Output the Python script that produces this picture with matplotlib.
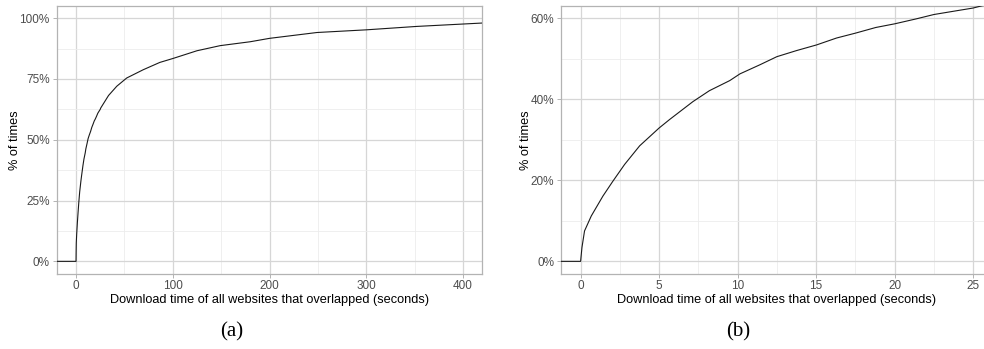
import matplotlib
matplotlib.use("Agg")
import matplotlib.pyplot as plt
from matplotlib.ticker import FuncFormatter, MultipleLocator

# ECDF of download time (seconds) -> share of times
times = [-30, 0, 0.085, 0.25, 0.68, 1.42, 2.06, 2.8, 3.76, 5, 5.67, 7.15, 8.2,
         9.5, 10.15, 11.42, 12.5, 13.75, 15.03, 16.3, 17.5, 18.8, 20.0, 21.35,
         22.5, 23.9, 25.0, 25.6, 33.6, 42.1, 52.4, 69.5, 86.6, 100, 125, 149,
         180, 200, 249, 300, 352, 420]
share = [0, 0, 0.034, 0.075, 0.112, 0.161, 0.198, 0.239, 0.285, 0.329, 0.35,
         0.394, 0.421, 0.446, 0.4626, 0.485, 0.505, 0.52, 0.534, 0.551, 0.563,
         0.577, 0.586, 0.598, 0.609, 0.618, 0.625, 0.631, 0.682, 0.72, 0.754,
         0.788, 0.818, 0.834, 0.866, 0.887, 0.903, 0.917, 0.941, 0.952, 0.966,
         0.98]

panel_labels = ["(a)", "(b)"]
x_title = "Download time of all websites that overlapped (seconds)"
y_title = "% of times"

plt.rcParams["font.family"] = ["Liberation Sans", "DejaVu Sans"]

fig = plt.figure(figsize=(9.84, 3.49), dpi=100)
ax_a = fig.add_axes([0.0576, 0.2163, 0.4326, 0.7665])
ax_b = fig.add_axes([0.5701, 0.2163, 0.4388, 0.7665])

pct = FuncFormatter(lambda v, p: f"{v * 100:.0f}%")


def style(ax, xlim, ylim, xmaj, ymaj):
    ax.plot(times, share, color="#1a1a1a", lw=0.8, zorder=3)
    ax.set_xlim(*xlim)
    ax.set_ylim(*ylim)
    ax.xaxis.set_major_locator(MultipleLocator(xmaj))
    ax.xaxis.set_minor_locator(MultipleLocator(xmaj / 2))
    ax.yaxis.set_major_locator(MultipleLocator(ymaj))
    ax.yaxis.set_minor_locator(MultipleLocator(ymaj / 2))
    ax.yaxis.set_major_formatter(pct)
    ax.grid(which="major", color="#d6d6d6", lw=0.9, zorder=0)
    ax.grid(which="minor", color="#ececec", lw=0.6, zorder=0)
    ax.set_axisbelow(True)
    for s in ax.spines.values():
        s.set_color("#b3b3b3")
        s.set_linewidth(0.9)
    ax.tick_params(which="major", length=3, width=0.7, color="#b3b3b3",
                   labelsize=8.5, labelcolor="#4d4d4d", pad=2)
    ax.tick_params(which="minor", length=0)
    ax.set_xlabel(x_title, fontsize=9.2, labelpad=1)
    ax.set_ylabel(y_title, fontsize=9.2, labelpad=-1)


style(ax_a, (-20, 420), (-0.05, 1.05), 100, 0.25)
style(ax_b, (-1.25, 26.25), (-0.03, 0.63), 5, 0.2)

fig.text(0.235, 0.05, panel_labels[0], ha="center", va="center",
         fontsize=15, family="Liberation Serif")
fig.text(0.75, 0.05, panel_labels[1], ha="center", va="center",
         fontsize=15, family="Liberation Serif")

fig.savefig("out.png", dpi=100)
